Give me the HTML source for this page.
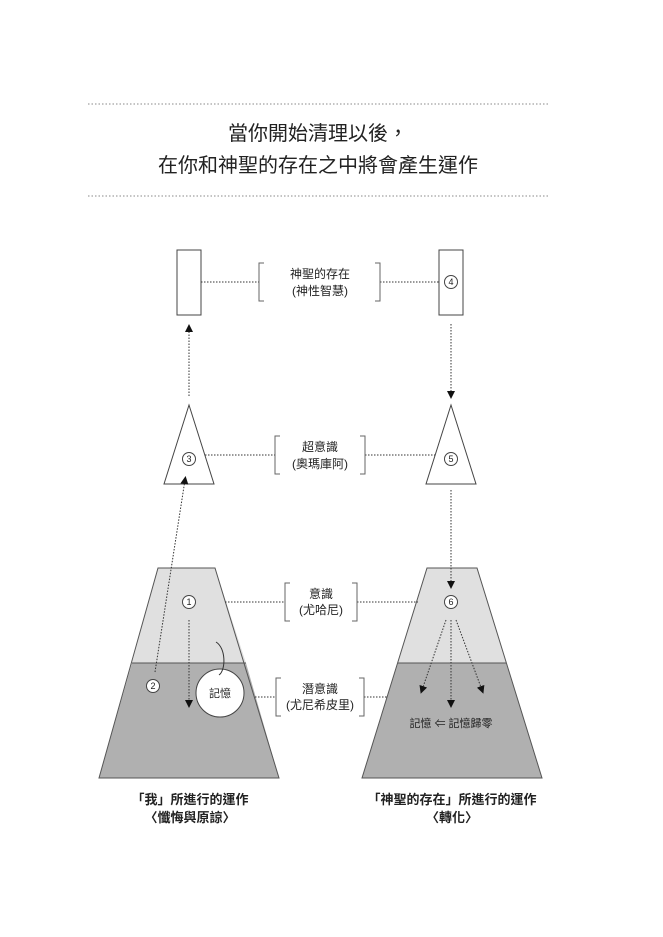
<!DOCTYPE html>
<html><head><meta charset="utf-8"><style>
body{margin:0;background:#fff;}
svg text{font-family:"Liberation Sans","Noto Sans CJK TC",sans-serif;fill:#222;}
</style></head><body>
<svg width="663" height="932" viewBox="0 0 663 932" xmlns="http://www.w3.org/2000/svg">
<defs><marker id="a" markerWidth="8" markerHeight="8" refX="4" refY="4" orient="auto" markerUnits="userSpaceOnUse"><path d="M0,0 L8,4 L0,8 Z" fill="#111"/></marker></defs>
<g stroke="#888" stroke-dasharray="1.5,2" stroke-width="1">
<line x1="88" y1="104" x2="548" y2="104"/><line x1="88" y1="196" x2="548" y2="196"/></g>
<text x="318" y="140" font-size="20" text-anchor="middle">當你開始清理以後，</text>
<text x="318" y="172" font-size="20" text-anchor="middle">在你和神聖的存在之中將會產生運作</text>
<!-- trapezoids -->
<polygon points="158,568 215,568 246,663 132,663" fill="#e0e0e0"/>
<polygon points="132,663 246,663 279,778 99,778" fill="#b0b0b0"/>
<polygon points="158,568 215,568 279,778 99,778" fill="none" stroke="#555"/>
<line x1="132" y1="663" x2="246" y2="663" stroke="#555"/>
<polygon points="427,568 477,568 506,663 398,663" fill="#e0e0e0"/>
<polygon points="398,663 506,663 542,778 362,778" fill="#b0b0b0"/>
<polygon points="427,568 477,568 542,778 362,778" fill="none" stroke="#555"/>
<line x1="398" y1="663" x2="506" y2="663" stroke="#555"/>
<!-- rects & triangles -->
<g fill="#fff" stroke="#444">
<rect x="177" y="250" width="24" height="65"/><rect x="439" y="250" width="24" height="65"/>
<polygon points="189,405 214,484 164,484"/><polygon points="451,405 476,484 426,484"/>
<circle cx="220" cy="693" r="24"/></g>
<!-- dotted connectors -->
<g stroke="#333" stroke-dasharray="1.5,1.5" stroke-width="1" fill="none">
<line x1="201" y1="282" x2="259" y2="282"/><line x1="380" y1="282" x2="439" y2="282"/>
<line x1="205" y1="455" x2="275" y2="455"/><line x1="365" y1="455" x2="435" y2="455"/>
<line x1="225" y1="602" x2="285" y2="602"/><line x1="357" y1="602" x2="418" y2="602"/>
<line x1="255" y1="697" x2="276" y2="697"/><line x1="364" y1="697" x2="388" y2="697"/>
<line x1="189" y1="396" x2="189" y2="328" marker-end="url(#a)"/>
<line x1="155" y1="672" x2="185" y2="480" marker-end="url(#a)"/>
<line x1="189" y1="620" x2="189" y2="704" marker-end="url(#a)"/>
<line x1="451" y1="324" x2="451" y2="395" marker-end="url(#a)"/>
<line x1="451" y1="490" x2="451" y2="585" marker-end="url(#a)"/>
<line x1="446" y1="620" x2="422" y2="690" marker-end="url(#a)"/>
<line x1="451" y1="620" x2="451" y2="704" marker-end="url(#a)"/>
<line x1="456" y1="620" x2="482" y2="690" marker-end="url(#a)"/>
</g>
<path d="M216,642 C226,648 226,670 219,675" stroke="#333" fill="none"/>
<!-- brackets -->
<g stroke="#666" fill="none">
<path d="M264,263 h-5 v38 h5 M375,263 h5 v38 h-5"/>
<path d="M280,436 h-5 v38 h5 M360,436 h5 v38 h-5"/>
<path d="M290,583 h-5 v38 h5 M352,583 h5 v38 h-5"/>
<path d="M281,678 h-5 v38 h5 M359,678 h5 v38 h-5"/>
</g>
<g font-size="12" text-anchor="middle">
<text x="320" y="278">神聖的存在</text><text x="320" y="295">(神性智慧)</text>
<text x="320" y="451">超意識</text><text x="320" y="468">(奧瑪庫阿)</text>
<text x="321" y="598">意識</text><text x="321" y="614">(尤哈尼)</text>
<text x="320" y="693">潛意識</text><text x="320" y="709">(尤尼希皮里)</text>
<text x="220" y="697" font-size="11">記憶</text>
<text x="451" y="727" font-size="11">記憶 ⇐ 記憶歸零</text>
</g>
<g fill="#fff" stroke="#444"><circle cx="451" cy="282" r="6.5"/><circle cx="189" cy="459" r="6.5"/><circle cx="451" cy="459" r="6.5"/><circle cx="189" cy="602" r="6.5"/><circle cx="451" cy="602" r="6.5"/><circle cx="153" cy="686" r="6.5"/></g>
<g font-size="9" text-anchor="middle"><text x="451" y="285">4</text><text x="189" y="462">3</text><text x="451" y="462">5</text><text x="189" y="605">1</text><text x="451" y="605">6</text><text x="153" y="689">2</text></g>
<g font-size="13" font-weight="bold" text-anchor="middle">
<text x="190" y="804">「我」所進行的運作</text><text x="190" y="822">〈懺悔與原諒〉</text>
<text x="452" y="804">「神聖的存在」所進行的運作</text><text x="452" y="822">〈轉化〉</text>
</g>
</svg>
</body></html>
